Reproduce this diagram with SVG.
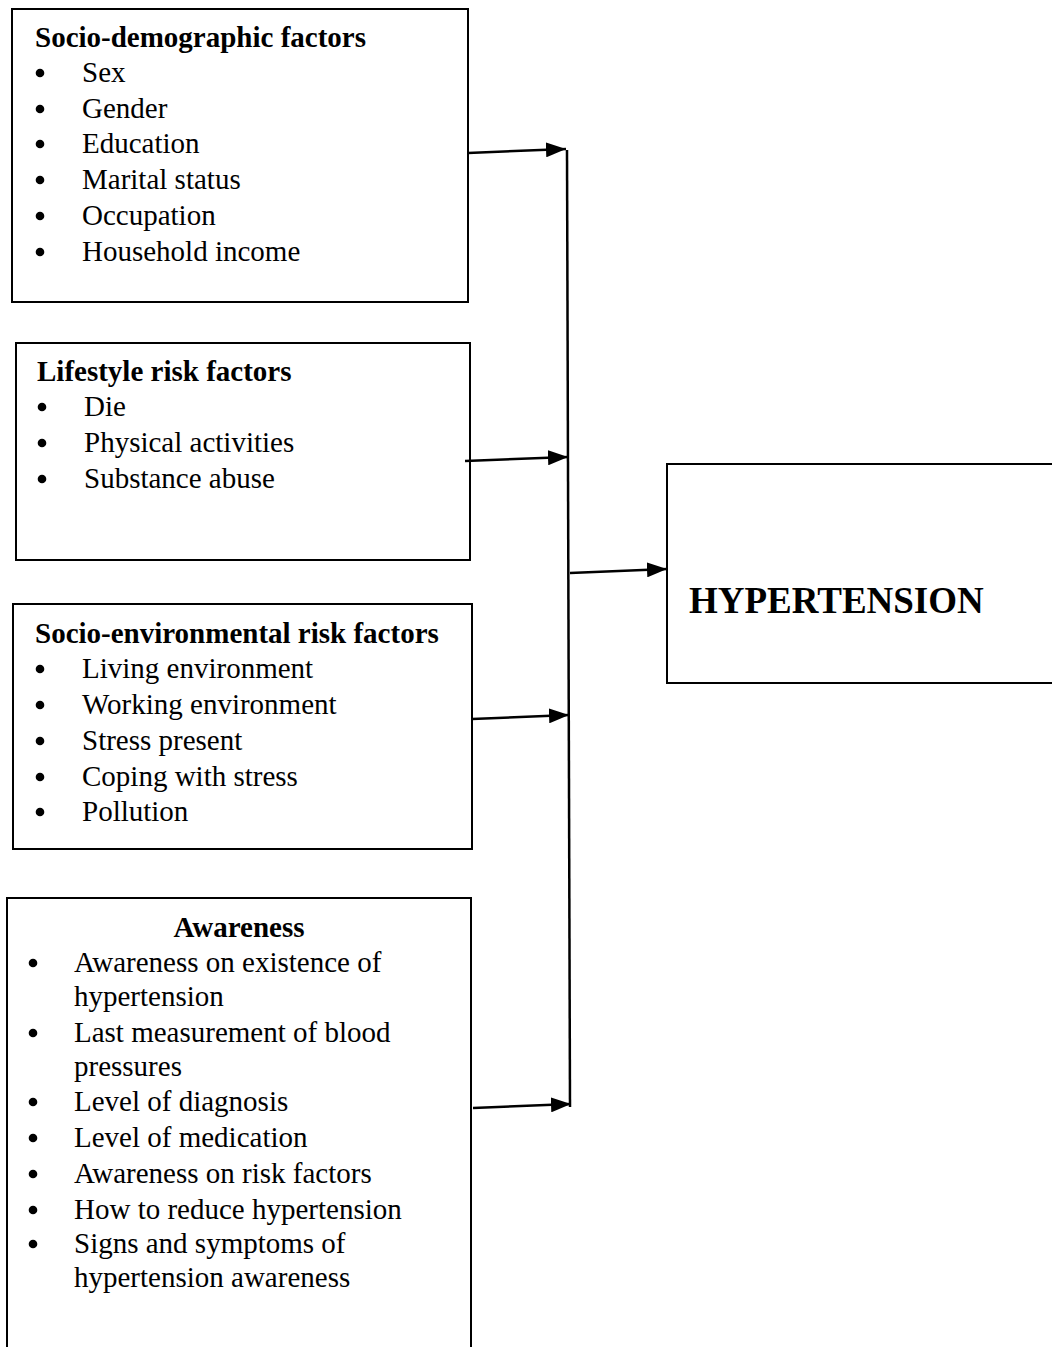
<svg xmlns="http://www.w3.org/2000/svg" width="1052" height="1347" viewBox="0 0 1052 1347">
<style>
.box{fill:#fff;stroke:#000;stroke-width:2}
.t{font-family:"Liberation Serif","Times New Roman",serif;font-size:29px;fill:#000}
.h{font-family:"Liberation Serif","Times New Roman",serif;font-size:29px;font-weight:bold;fill:#000}
.big{font-family:"Liberation Serif","Times New Roman",serif;font-size:37px;font-weight:bold;fill:#000}
.c{fill:none;stroke:#000;stroke-width:2.5}
</style>
<defs>
<marker id="ah" markerWidth="8" markerHeight="6" refX="8" refY="3" orient="auto" markerUnits="strokeWidth">
<path d="M0,0 L8,3 L0,6 Z" fill="#000"/>
</marker>
<circle id="dot" r="4.3" fill="#000"/>
</defs>
<rect width="1052" height="1347" fill="#fff"/>
<g id="socio-demographic">
<rect class="box" x="12" y="9" width="456" height="293"/>
<text class="h" x="35" y="47">Socio-demographic factors</text>
<use href="#dot" x="40" y="73"/><text class="t" x="82" y="82">Sex</text>
<use href="#dot" x="40" y="109"/><text class="t" x="82" y="118">Gender</text>
<use href="#dot" x="40" y="144"/><text class="t" x="82" y="153">Education</text>
<use href="#dot" x="40" y="180"/><text class="t" x="82" y="189">Marital status</text>
<use href="#dot" x="40" y="216"/><text class="t" x="82" y="225">Occupation</text>
<use href="#dot" x="40" y="252"/><text class="t" x="82" y="261">Household income</text>
</g>
<g id="lifestyle">
<rect class="box" x="16" y="343" width="454" height="217"/>
<text class="h" x="37" y="381">Lifestyle risk factors</text>
<use href="#dot" x="42" y="407"/><text class="t" x="84" y="416">Die</text>
<use href="#dot" x="42" y="443"/><text class="t" x="84" y="452">Physical activities</text>
<use href="#dot" x="42" y="479"/><text class="t" x="84" y="488">Substance abuse</text>
</g>
<g id="socio-environmental">
<rect class="box" x="13" y="604" width="459" height="245"/>
<text class="h" x="35" y="643">Socio-environmental risk factors</text>
<use href="#dot" x="40" y="669"/><text class="t" x="82" y="678">Living environment</text>
<use href="#dot" x="40" y="705"/><text class="t" x="82" y="714">Working environment</text>
<use href="#dot" x="40" y="741"/><text class="t" x="82" y="750">Stress present</text>
<use href="#dot" x="40" y="777"/><text class="t" x="82" y="786">Coping with stress</text>
<use href="#dot" x="40" y="812"/><text class="t" x="82" y="821">Pollution</text>
</g>
<g id="awareness">
<rect class="box" x="7" y="898" width="464" height="460"/>
<text class="h" x="239" y="937" text-anchor="middle">Awareness</text>
<use href="#dot" x="33" y="963"/><text class="t" x="74" y="972">Awareness on existence of</text>
<text class="t" x="74" y="1006">hypertension</text>
<use href="#dot" x="33" y="1033"/><text class="t" x="74" y="1042">Last measurement of blood</text>
<text class="t" x="74" y="1076">pressures</text>
<use href="#dot" x="33" y="1102"/><text class="t" x="74" y="1111">Level of diagnosis</text>
<use href="#dot" x="33" y="1138"/><text class="t" x="74" y="1147">Level of medication</text>
<use href="#dot" x="33" y="1174"/><text class="t" x="74" y="1183">Awareness on risk factors</text>
<use href="#dot" x="33" y="1210"/><text class="t" x="74" y="1219">How to reduce hypertension</text>
<use href="#dot" x="33" y="1244"/><text class="t" x="74" y="1253">Signs and symptoms of</text>
<text class="t" x="74" y="1287">hypertension awareness</text>
</g>
<g id="hypertension">
<rect class="box" x="667" y="464" width="400" height="219"/>
<text class="big" x="689" y="613">HYPERTENSION</text>
</g>
<g id="connectors">
<line class="c" x1="567" y1="150" x2="570" y2="1107"/>
<line class="c" x1="468" y1="153" x2="566" y2="149" marker-end="url(#ah)"/>
<line class="c" x1="465" y1="461" x2="568" y2="457" marker-end="url(#ah)"/>
<line class="c" x1="472" y1="719" x2="569" y2="715" marker-end="url(#ah)"/>
<line class="c" x1="473" y1="1108" x2="571" y2="1104" marker-end="url(#ah)"/>
<line class="c" x1="570" y1="573" x2="667" y2="569" marker-end="url(#ah)"/>
</g>
</svg>
